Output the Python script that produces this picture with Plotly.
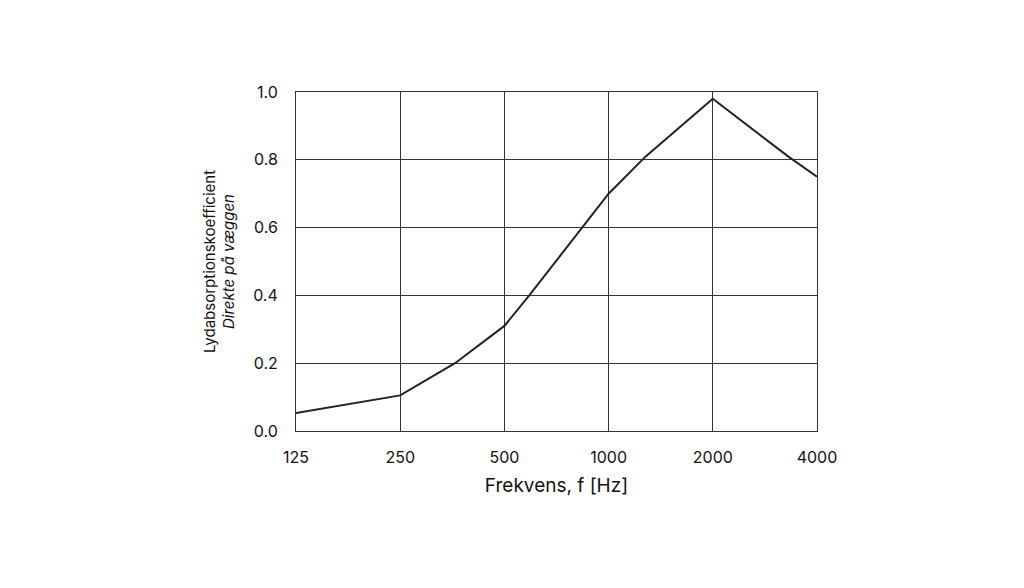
import plotly.graph_objects as go

freq = [125, 250, 360, 500, 590, 1000, 1280, 2000, 3300, 4000]
alpha = [0.053, 0.105, 0.2, 0.31, 0.4, 0.70, 0.81, 0.98, 0.81, 0.75]
tick_vals = [125, 250, 500, 1000, 2000, 4000]

fig = go.Figure()
fig.add_trace(go.Scatter(x=freq, y=alpha, mode='lines', line=dict(color='#222222', width=2)))
fig.update_layout(
    width=1024, height=588, plot_bgcolor='white', paper_bgcolor='white',
    margin=dict(l=288, r=215, t=84, b=165), showlegend=False,
    font=dict(family='Inter', size=16, color='#111111'),
)
fig.update_xaxes(type='log', range=[2.0969, 3.6021], tickvals=tick_vals, ticktext=[str(v) for v in tick_vals],
                 showgrid=True, gridcolor='#333333', gridwidth=1, showline=True, linecolor='#333333', mirror=True,
                 ticks='outside', ticklen=12, tickcolor='rgba(0,0,0,0)',
                 title=dict(text='Frekvens, f [Hz]', standoff=12))
fig.update_yaxes(range=[0, 1.0], dtick=0.2, tickformat='.1f', showgrid=True, gridcolor='#333333', gridwidth=1,
                 showline=True, linecolor='#333333', mirror=True, zeroline=False,
                 ticks='outside', ticklen=14, tickcolor='rgba(0,0,0,0)',
                 title=dict(text='Lydabsorptionskoefficient<br><i>Direkte på væggen</i>', standoff=14,
                            font=dict(size=15)))
fig.write_html("out.html")
